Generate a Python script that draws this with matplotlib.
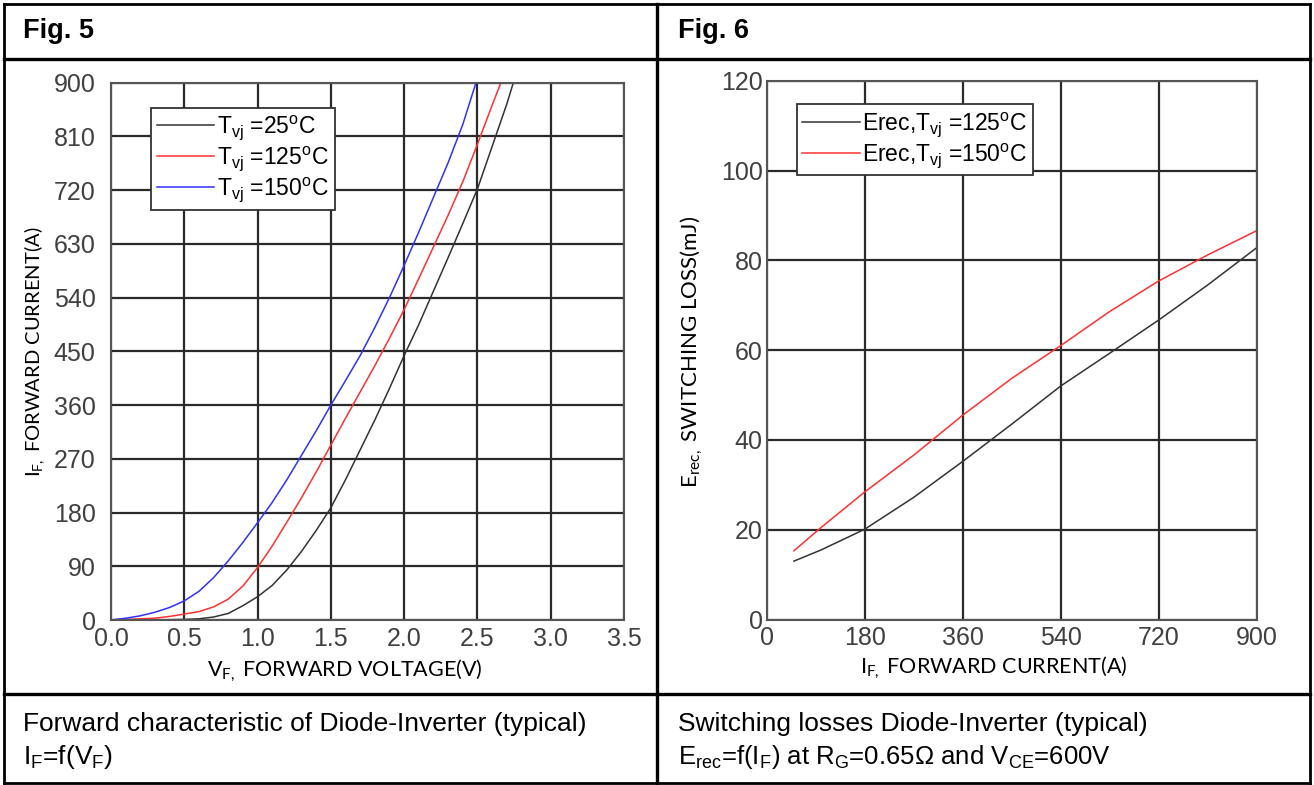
import matplotlib
matplotlib.use("Agg")
import matplotlib.pyplot as plt
from matplotlib.lines import Line2D

# Datos
# Fig. 5: I_F = f(V_F)
vf_25 = [0, 0.2, 0.4, 0.5, 0.6, 0.7, 0.8, 0.9, 1.0, 1.1, 1.2, 1.3, 1.4, 1.5, 1.6, 1.7, 1.8, 1.9,
         2.0, 2.1, 2.2, 2.3, 2.4, 2.5, 2.6, 2.7, 2.745]
if_25 = [0, 0, 0.5, 1, 2, 5, 11, 24, 39, 58, 84, 115, 150, 188, 235, 285, 335, 388,
         443, 495, 551, 607, 664, 722, 793, 864, 900]

vf_125 = [0, 0.1, 0.2, 0.3, 0.4, 0.5, 0.6, 0.7, 0.8, 0.9, 1.0, 1.1, 1.2, 1.3, 1.4, 1.5, 1.6, 1.7,
          1.8, 1.9, 2.0, 2.1, 2.2, 2.3, 2.4, 2.5, 2.6, 2.66]
if_125 = [0, 1, 2, 3, 6, 10, 14, 22, 35, 57, 88, 124, 164, 205, 248, 293, 338, 382,
          426, 472, 520, 572, 625, 678, 734, 797, 862, 900]

vf_150 = [0, 0.1, 0.2, 0.3, 0.4, 0.5, 0.6, 0.7, 0.8, 0.9, 1.0, 1.1, 1.2, 1.3, 1.4, 1.5, 1.6, 1.7,
          1.8, 1.9, 2.0, 2.1, 2.2, 2.3, 2.4, 2.49]
if_150 = [0, 3, 7, 13, 21, 32, 48, 71, 99, 130, 163, 197, 235, 276, 317, 360, 401, 443,
          490, 540, 594, 650, 708, 766, 830, 900]

vf_ticks = [0.0, 0.5, 1.0, 1.5, 2.0, 2.5, 3.0, 3.5]
if_ticks = [0, 90, 180, 270, 360, 450, 540, 630, 720, 810, 900]

# Fig. 6: E_rec = f(I_F)
if_rec = [50, 100, 180, 270, 360, 450, 540, 630, 720, 810, 900]
erec_125 = [13.0, 15.5, 20.1, 27.2, 35.2, 43.5, 52.0, 59.3, 66.7, 74.5, 82.8]
erec_150 = [15.3, 20.5, 28.4, 36.6, 45.5, 53.7, 61.0, 68.6, 75.4, 81.2, 86.6]

irec_ticks = [0, 180, 360, 540, 720, 900]
erec_ticks = [0, 20, 40, 60, 80, 100, 120]

W, H = 1314, 785
plt.rcParams['font.family'] = ['Liberation Sans', 'DejaVu Sans']
plt.rcParams['mathtext.fontset'] = 'custom'
plt.rcParams['mathtext.rm'] = 'Liberation Sans'
plt.rcParams['mathtext.it'] = 'Liberation Sans'

fig = plt.figure(figsize=(W / 100, H / 100), dpi=100)


def fx(x):
    return x / W


def fy(y):
    return 1 - y / H


def linea(x0, y0, x1, y1, lw=2.0):
    fig.add_artist(Line2D([fx(x0), fx(x1)], [fy(y0), fy(y1)], transform=fig.transFigure,
                          color='black', lw=lw, solid_capstyle='projecting'))


# Marco de la tabla
linea(4, 4, 1310, 4)
linea(4, 783, 1310, 783)
linea(4, 4, 4, 783)
linea(1310, 4, 1310, 783)
linea(4, 59, 1310, 59, 2.4)
linea(4, 694, 1310, 694, 2.4)
linea(657, 4, 657, 783, 2.4)

# Textos de cabecera y pie
fig.text(fx(23), fy(31), "Fig. 5", fontsize=19.5, fontweight='bold', va='center')
fig.text(fx(678), fy(31), "Fig. 6", fontsize=19.5, fontweight='bold', va='center')

fig.text(fx(23), fy(724), "Forward characteristic of Diode-Inverter (typical)", fontsize=19, va='center')
fig.text(fx(23), fy(757), r"I$\mathregular{_F}$=f(V$\mathregular{_F}$)", fontsize=19, va='center')
fig.text(fx(678), fy(724), "Switching losses Diode-Inverter (typical)", fontsize=19, va='center')
fig.text(fx(678), fy(757),
         r"E$\mathregular{_{rec}}$=f(I$\mathregular{_F}$) at R$\mathregular{_G}$=0.65Ω and V$\mathregular{_{CE}}$=600V",
         fontsize=18.5, va='center')

tick_color = '#404040'
grid_color = '#2a2a2a'


def estilo(ax):
    ax.grid(True, color=grid_color, lw=1.6)
    ax.set_axisbelow(True)
    for s in ax.spines.values():
        s.set_color('#555555')
        s.set_linewidth(1.5)
    ax.tick_params(length=0, labelsize=18, labelcolor=tick_color)


# Fig. 5
ax1 = fig.add_axes([fx(111), fy(620), (624 - 111) / W, (620 - 82.7) / H])
ax1.plot(vf_25, if_25, color='#333333', lw=1.1, label=r"T$_{\mathregular{vj}}$ =25$^{\mathregular{o}}$C")
ax1.plot(vf_125, if_125, color='#ff3030', lw=1.1, label=r"T$_{\mathregular{vj}}$ =125$^{\mathregular{o}}$C")
ax1.plot(vf_150, if_150, color='#3030ff', lw=1.1, label=r"T$_{\mathregular{vj}}$ =150$^{\mathregular{o}}$C")
ax1.set_xlim(0, 3.5)
ax1.set_ylim(0, 900)
ax1.set_xticks(vf_ticks)
ax1.set_xticklabels([f"{v:.1f}" for v in vf_ticks])
ax1.set_yticks(if_ticks)
estilo(ax1)
ax1.tick_params(axis='y', pad=11)
ax1.tick_params(axis='x', pad=5)
leg1 = ax1.legend(loc='upper left', bbox_to_anchor=(0.078, 0.953), fontsize=16.5, frameon=True,
                  fancybox=False, framealpha=1, edgecolor='#333333', borderaxespad=0,
                  handlelength=2.5, handletextpad=0.15, labelspacing=0.1, borderpad=0.25)
leg1.get_frame().set_linewidth(1.3)

fig.text(fx(35), fy(352), r"I$_{\mathregular{F,}}$ FORWARD CURRENT(A)", family='Lato', fontsize=14.5,
         rotation=90, ha='center', va='center')
fig.text(fx(345), fy(671), r"V$_{\mathregular{F,}}$ FORWARD VOLTAGE(V)", family='Lato', fontsize=15.5,
         ha='center', va='center')

# Fig. 6
ax2 = fig.add_axes([fx(766.7), fy(619.5), (1256.7 - 766.7) / W, (619.5 - 80.7) / H])
ax2.plot(if_rec, erec_125, color='#333333', lw=1.1, label=r"Erec,T$_{\mathregular{vj}}$ =125$^{\mathregular{o}}$C")
ax2.plot(if_rec, erec_150, color='#ff3030', lw=1.1, label=r"Erec,T$_{\mathregular{vj}}$ =150$^{\mathregular{o}}$C")
ax2.set_xlim(0, 900)
ax2.set_ylim(0, 120)
ax2.set_xticks(irec_ticks)
ax2.set_yticks(erec_ticks)
estilo(ax2)
ax2.tick_params(axis='y', pad=3)
ax2.tick_params(axis='x', pad=5)
leg2 = ax2.legend(loc='upper left', bbox_to_anchor=(0.061, 0.956), fontsize=16.5, frameon=True,
                  fancybox=False, framealpha=1, edgecolor='#333333', borderaxespad=0,
                  handlelength=2.5, handletextpad=0.1, labelspacing=0.1, borderpad=0.25)
leg2.get_frame().set_linewidth(1.3)

fig.text(fx(692), fy(352), r"E$_{\mathregular{rec,}}$ SWITCHING LOSS(mJ)", family='Lato', fontsize=16,
         rotation=90, ha='center', va='center')
fig.text(fx(994), fy(668), r"I$_{\mathregular{F,}}$ FORWARD CURRENT(A)", family='Lato', fontsize=15.5,
         ha='center', va='center')

fig.savefig("out.png", dpi=100)
